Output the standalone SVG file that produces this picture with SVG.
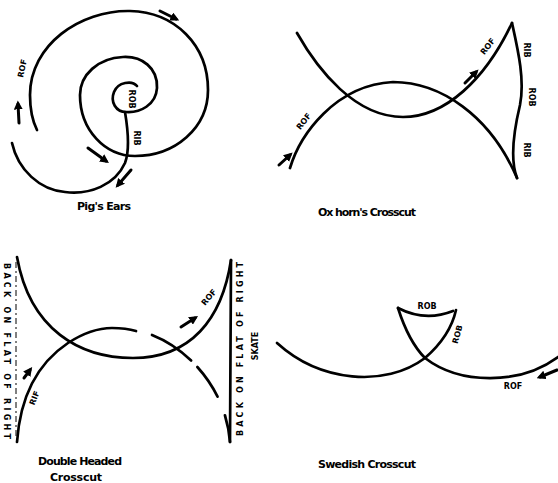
<svg xmlns="http://www.w3.org/2000/svg" width="558" height="483" viewBox="0 0 558 483">
<style>
.ln{fill:none;stroke:#000;stroke-width:2.7;stroke-linecap:round;stroke-linejoin:round}
.ar{fill:none;stroke:#000;stroke-width:3;stroke-linecap:round;marker-end:url(#ah)}
.lb{font-family:"DejaVu Sans",sans-serif;font-weight:bold;font-size:8px;fill:#000}
.cap{font-family:"DejaVu Sans",sans-serif;font-weight:bold;font-size:11px;fill:#000}
</style>
<defs>
<marker id="ah" viewBox="0 0 10 10" refX="6" refY="5" markerWidth="3" markerHeight="3" orient="auto">
<path d="M0,0 L10,5 L0,10 z" fill="#000"/>
</marker>
</defs>
<rect width="558" height="483" fill="#fff"/>

<g id="pigs-ears">
<path class="ln" d="M137,86 C132,80 118,82 114,92 C110,102 116,112 126,112 C140,113 156,105 157,88 C158,68 142,56 123,57 C98,58 80,75 80,95 C80,130 105,156 135,156 C175,156 208,128 208,90 C208,45 175,12 130,11 C80,10 30,45 30,95 C30,110 33,122 37,130"/>
<path class="ln" d="M125,112 C128,130 130,150 125,163 C115,185 90,195 65,192 C40,190 18,170 12,143"/>
<path class="ar" d="M160,11 L176,19"/>
<path class="ar" d="M19,123 L18,104"/>
<path class="ar" d="M88,148 L106,161"/>
<path class="ar" d="M131,170 L118,185"/>
<text class="lb" transform="translate(25,69) rotate(-78)" text-anchor="middle">ROF</text>
<text class="lb" transform="translate(129,99) rotate(90)" text-anchor="middle" font-size="7">ROB</text>
<text class="lb" transform="translate(134,138) rotate(90)" text-anchor="middle">RIB</text>
<text class="cap" x="104" y="210" text-anchor="middle" textLength="54">Pig's Ears</text>
</g>

<g id="ox-horns-crosscut">
<path class="ln" d="M297,33 C318,70 355,117 403,117 C445,117 485,80 512,23"/>
<path class="ln" d="M290,168 C300,135 335,85 393,82 C440,82 490,115 517,178"/>
<path class="ln" d="M512,23 C518,50 525,80 520,105 C514,130 510,160 517,178"/>
<path class="ar" d="M279,165 L290,155"/>
<path class="ar" d="M465,83 L476,72"/>
<text class="lb" transform="translate(306,123) rotate(-52)" text-anchor="middle">ROF</text>
<text class="lb" transform="translate(490,48) rotate(-52)" text-anchor="middle">ROF</text>
<text class="lb" transform="translate(524,50) rotate(90)" text-anchor="middle">RIB</text>
<text class="lb" transform="translate(529,97) rotate(90)" text-anchor="middle">ROB</text>
<text class="lb" transform="translate(524,150) rotate(90)" text-anchor="middle">RIB</text>
<text class="cap" x="367" y="216" text-anchor="middle" textLength="98">Ox horn's Crosscut</text>
</g>

<g id="double-headed-crosscut">
<path class="ln" d="M17,257 C30,330 80,358 133,358 C190,358 222,320 231,260"/>
<path class="ln" d="M17,442 C20,400 35,365 68,343 C85,332 100,328 112,328 Q126,328 136,331"/>
<path class="ln" d="M152,335 C190,350 226,390 230,442" stroke-dasharray="47 9 36 20 40"/>
<path class="ln" d="M231,260 L230,442" stroke-width="3"/>
<path d="M16,262 L16,438" fill="none" stroke="#000" stroke-width="1" stroke-dasharray="6 3 2 3"/>
<path class="ar" d="M181,327 L195,318"/>
<path class="ar" d="M24,378 L30,370"/>
<text class="lb" transform="translate(211,299) rotate(-50)" text-anchor="middle">ROF</text>
<text class="lb" transform="translate(37,399) rotate(-68)" text-anchor="middle">RIF</text>
<text class="lb" transform="translate(4,351) rotate(90)" text-anchor="middle" textLength="176" font-size="7">BACK ON FLAT OF RIGHT</text>
<text class="lb" transform="translate(243,349) rotate(-90)" text-anchor="middle" textLength="174" font-size="7">BACK ON FLAT OF RIGHT</text>
<text class="lb" transform="translate(258,346) rotate(-90)" text-anchor="middle" font-size="7">SKATE</text>
<text class="cap" x="80" y="465" text-anchor="middle" textLength="84">Double Headed</text>
<text class="cap" x="76" y="481" text-anchor="middle" textLength="52">Crosscut</text>
</g>

<g id="swedish-crosscut">
<path class="ln" d="M277,343 C320,382 385,388 425,358 C440,345 452,328 456,310"/>
<path class="ln" d="M398,308 C405,330 415,348 425,358 C460,385 520,385 558,357"/>
<path class="ln" d="M398,308 Q425,322 453,311"/>
<path class="ar" d="M557,370 L540,377"/>
<text class="lb" x="427" y="309" text-anchor="middle">ROB</text>
<text class="lb" transform="translate(460,335) rotate(-75)" text-anchor="middle">ROB</text>
<text class="lb" x="513" y="389" text-anchor="middle">ROF</text>
<text class="cap" x="367" y="468" text-anchor="middle" textLength="98">Swedish Crosscut</text>
</g>
</svg>
